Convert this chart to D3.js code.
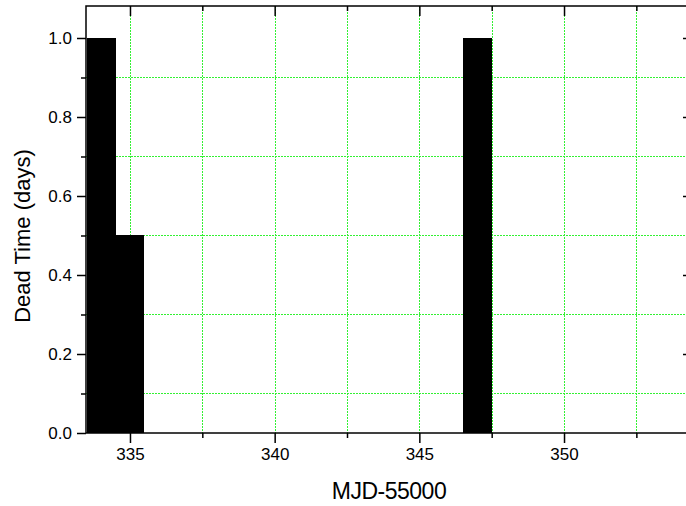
<!DOCTYPE html>
<html lang="en">
<head>
    <meta charset="UTF-8">
    <title>Dead Time vs MJD</title>
    <script src="https://d3js.org/d3.v7.min.js"></script>
    <style>
        body { margin: 0; background: #fff; }
        svg { background-color: #fff; font-family: "Liberation Sans", Arial, sans-serif; }
    </style>
</head>
<body>
    <svg width="686" height="506"></svg>
    <script>
        // data: one bar per day
        const days = [334, 335, 347];
        const deadTime = [1.0, 0.5, 1.0];
        const binWidth = 1;

        const xDomain = [333.48, 354.25];
        const yDomain = [0, 1.081];
        const xMajorTicks = [335, 340, 345, 350];
        const xMinorTicks = [337.5, 342.5, 347.5, 352.5];
        const yMajorTicks = [0, 0.2, 0.4, 0.6, 0.8, 1.0];
        const yMinorTicks = [0.1, 0.3, 0.5, 0.7, 0.9];
        const xGrid = [335, 337.5, 340, 342.5, 345, 347.5, 350, 352.5];
        const yGrid = [0.1, 0.3, 0.5, 0.7, 0.9];

        const plot = { left: 86, right: 687, top: 6, bottom: 433 };
        const svg = d3.select("svg");

        const x = d3.scaleLinear().domain(xDomain).range([plot.left, plot.right]);
        const y = d3.scaleLinear().domain(yDomain).range([plot.bottom, plot.top]);

        // grid (dotted green), snapped to whole pixels
        const grid = svg.append("g")
            .attr("stroke", "#33f033")
            .attr("stroke-width", 1)
            .attr("stroke-dasharray", "2,1")
            .attr("shape-rendering", "crispEdges");
        grid.append("g").selectAll("line").data(xGrid).join("line")
            .attr("x1", d => Math.round(x(d)) + 0.5).attr("x2", d => Math.round(x(d)) + 0.5)
            .attr("y1", plot.top).attr("y2", plot.bottom);
        grid.append("g").selectAll("line").data(yGrid).join("line")
            .attr("x1", plot.left).attr("x2", plot.right)
            .attr("y1", d => Math.floor(y(d)) + 0.5).attr("y2", d => Math.floor(y(d)) + 0.5);

        // bars
        svg.append("g").selectAll("rect").data(days).join("rect")
            .attr("x", d => x(d - binWidth / 2))
            .attr("width", d => x(d + binWidth / 2) - x(d - binWidth / 2))
            .attr("y", (d, i) => y(deadTime[i]))
            .attr("height", (d, i) => y(0) - y(deadTime[i]))
            .attr("fill", "#000")
            .attr("shape-rendering", "crispEdges");

        function styleAxis(g) {
            g.select(".domain").remove();
            g.selectAll(".tick line").attr("stroke", "#000").attr("stroke-width", 1.5);
            g.selectAll(".tick text").attr("fill", "#000").style("font-size", "17px");
        }

        // bottom axis
        svg.append("g").attr("transform", `translate(0,${plot.bottom})`)
            .call(d3.axisBottom(x).tickValues(xMajorTicks).tickSize(10).tickPadding(5).tickFormat(d3.format("d")))
            .call(styleAxis);
        svg.append("g").attr("transform", `translate(0,${plot.bottom})`)
            .call(d3.axisBottom(x).tickValues(xMinorTicks).tickSize(5).tickFormat(""))
            .call(styleAxis);

        // top axis (ticks inward)
        svg.append("g").attr("transform", `translate(0,${plot.top})`)
            .call(d3.axisTop(x).tickValues(xMajorTicks).tickSizeInner(-10).tickSizeOuter(0).tickFormat(""))
            .call(styleAxis);
        svg.append("g").attr("transform", `translate(0,${plot.top})`)
            .call(d3.axisTop(x).tickValues(xMinorTicks).tickSizeInner(-5).tickSizeOuter(0).tickFormat(""))
            .call(styleAxis);

        // left axis
        svg.append("g").attr("transform", `translate(${plot.left},0)`)
            .call(d3.axisLeft(y).tickValues(yMajorTicks).tickSize(9).tickPadding(5).tickFormat(d3.format(".1f")))
            .call(styleAxis);
        svg.append("g").attr("transform", `translate(${plot.left},0)`)
            .call(d3.axisLeft(y).tickValues(yMinorTicks).tickSize(5).tickFormat(""))
            .call(styleAxis);

        // right axis (ticks inward)
        svg.append("g").attr("transform", `translate(${plot.right},0)`)
            .call(d3.axisRight(y).tickValues(yMajorTicks.slice(1)).tickSizeInner(-4).tickSizeOuter(0).tickFormat(""))
            .call(styleAxis);

        // frame
        svg.append("rect")
            .attr("x", plot.left).attr("y", plot.top)
            .attr("width", plot.right - plot.left).attr("height", plot.bottom - plot.top)
            .attr("fill", "none").attr("stroke", "#000").attr("stroke-width", 1.5);

        // axis titles
        svg.append("text")
            .attr("x", 389).attr("y", 499)
            .attr("text-anchor", "middle")
            .style("font-size", "23px")
            .style("letter-spacing", "-0.5px")
            .text("MJD-55000");

        svg.append("text")
            .attr("transform", "translate(30,236) rotate(-90)")
            .attr("text-anchor", "middle")
            .style("font-size", "22px")
            .text("Dead Time (days)");
    </script>
</body>
</html>
